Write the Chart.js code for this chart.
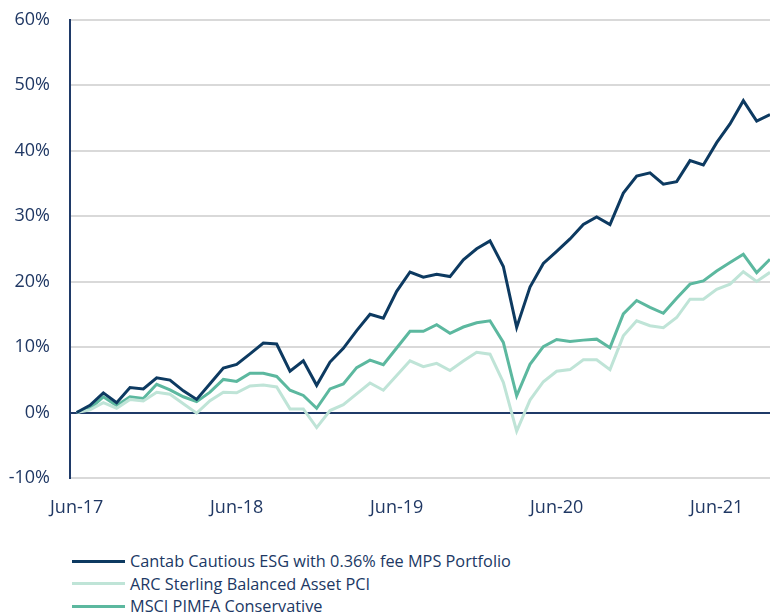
<!DOCTYPE html>
<html>
<head>
<meta charset="utf-8">
<script src="https://cdn.jsdelivr.net/npm/chart.js@4.4.1/dist/chart.umd.min.js"></script>
<style>
  html, body { margin: 0; padding: 0; background: #ffffff; overflow: hidden; }
  #wrap { position: relative; width: 770px; height: 612px; }
  #c { position: absolute; left: 0; top: 0; }
  #legend { position: absolute; left: 72px; top: 550px; font-family: "Open Sans", sans-serif; font-size: 16.3px; color: #203864; }
  .row { height: 22.5px; display: flex; align-items: center; white-space: nowrap; }
  .swatch { width: 53px; height: 3px; margin-right: 5px; }
</style>
</head>
<body>
<div id="wrap">
  <canvas id="c" width="770" height="530"></canvas>
  <div id="legend"></div>
</div>
<script>
// Monthly categories, Jun-17 .. Oct-21
const months = ["Jun-17","Jul-17","Aug-17","Sep-17","Oct-17","Nov-17","Dec-17","Jan-18","Feb-18","Mar-18","Apr-18","May-18",
  "Jun-18","Jul-18","Aug-18","Sep-18","Oct-18","Nov-18","Dec-18","Jan-19","Feb-19","Mar-19","Apr-19","May-19",
  "Jun-19","Jul-19","Aug-19","Sep-19","Oct-19","Nov-19","Dec-19","Jan-20","Feb-20","Mar-20","Apr-20","May-20",
  "Jun-20","Jul-20","Aug-20","Sep-20","Oct-20","Nov-20","Dec-20","Jan-21","Feb-21","Mar-21","Apr-21","May-21",
  "Jun-21","Jul-21","Aug-21","Sep-21","Oct-21"];
const xTickLabels = ["Jun-17","Jun-18","Jun-19","Jun-20","Jun-21"];
const yTicks = [-10, 0, 10, 20, 30, 40, 50, 60];

const seriesNames = ["Cantab Cautious ESG with 0.36% fee MPS Portfolio", "ARC Sterling Balanced Asset PCI", "MSCI PIMFA Conservative"];

const cantab = [0,1.1,3.0,1.5,3.8,3.6,5.3,4.95,3.3,2.0,4.4,6.8,
  7.35,8.95,10.6,10.45,6.3,7.9,4.15,7.7,9.8,12.5,15.0,14.4,
  18.5,21.45,20.65,21.1,20.75,23.3,25.0,26.2,22.3,13.0,19.15,22.75,
  24.6,26.5,28.7,29.85,28.7,33.5,36.1,36.6,34.85,35.25,38.45,37.8,
  41.2,44.05,47.6,44.5,45.5];
const arc = [0,0.4,1.5,0.65,2.0,1.75,3.1,2.8,1.35,-0.1,1.8,3.1,
  3.0,4.05,4.2,3.9,0.55,0.55,-2.3,0.3,1.2,2.85,4.5,3.4,
  5.65,7.9,7.0,7.5,6.4,7.85,9.2,8.9,4.6,-2.85,1.9,4.7,
  6.3,6.55,8.05,8.05,6.55,11.7,14.0,13.25,12.95,14.5,17.3,17.3,
  18.8,19.6,21.5,20.0,21.4];
const msci = [0,0.6,2.4,1.05,2.4,2.15,4.3,3.45,2.4,1.65,3.1,5.05,
  4.75,6.0,6.0,5.5,3.4,2.6,0.65,3.6,4.35,6.85,8.0,7.3,
  9.85,12.4,12.4,13.4,12.1,13.05,13.7,14.0,10.7,2.55,7.35,10.05,
  11.15,10.85,11.05,11.2,9.9,15.05,17.1,16.05,15.15,17.45,19.6,20.1,
  21.6,22.9,24.15,21.35,23.4];

const colors = ["#0d3a61", "#bfe4d7", "#5cb89f"];
const seriesValues = [cantab, arc, msci];

const toPoints = arr => arr.map((v, i) => ({ x: i, y: v }));

const datasets = seriesNames.map((name, k) => ({
  label: name,
  data: toPoints(seriesValues[k]),
  borderColor: colors[k],
  backgroundColor: colors[k],
  borderWidth: 3,
  pointRadius: 0,
  tension: 0,
  borderJoinStyle: 'miter'
}));

const navy = "#1f3a68";
const textColor = "#203864";

new Chart(document.getElementById('c'), {
  type: 'line',
  data: { datasets },
  options: {
    responsive: false,
    animation: false,
    layout: { padding: { top: 19.5, right: 0, left: 0, bottom: 0 } },
    plugins: { legend: { display: false }, tooltip: { enabled: false } },
    scales: {
      x: {
        type: 'linear',
        min: -0.5,
        max: 52,
        afterBuildTicks: s => { s.ticks = xTickLabels.map(l => ({ value: months.indexOf(l) })); },
        afterFit: s => { s.height = 52; s.paddingLeft = 0; s.paddingRight = 0; },
        grid: { display: false, drawTicks: false },
        border: { display: false },
        ticks: {
          autoSkip: false, maxRotation: 0, padding: 19,
          color: textColor,
          font: { family: "'Open Sans', sans-serif", size: 18 },
          callback: v => months[v]
        }
      },
      y: {
        min: -10, max: 60,
        afterBuildTicks: s => { s.ticks = yTicks.map(v => ({ value: v })); },
        afterFit: s => { s.width = 70; s.paddingTop = 0; s.paddingBottom = 0; },
        grid: {
          drawTicks: false,
          color: ctx => ctx.tick && ctx.tick.value === 0 ? navy : "#d9d9d9",
          lineWidth: 2
        },
        border: { display: true, color: navy, width: 2 },
        ticks: {
          padding: 20,
          color: textColor,
          font: { family: "'Open Sans', sans-serif", size: 18 },
          callback: v => v + "%"
        }
      }
    }
  }
});

// HTML legend, one series per row
const legend = document.getElementById('legend');
seriesNames.forEach((name, k) => {
  const row = document.createElement('div');
  row.className = 'row';
  const sw = document.createElement('span');
  sw.className = 'swatch';
  sw.style.background = colors[k];
  const tx = document.createElement('span');
  tx.textContent = name;
  row.appendChild(sw); row.appendChild(tx);
  legend.appendChild(row);
});
</script>
</body>
</html>
